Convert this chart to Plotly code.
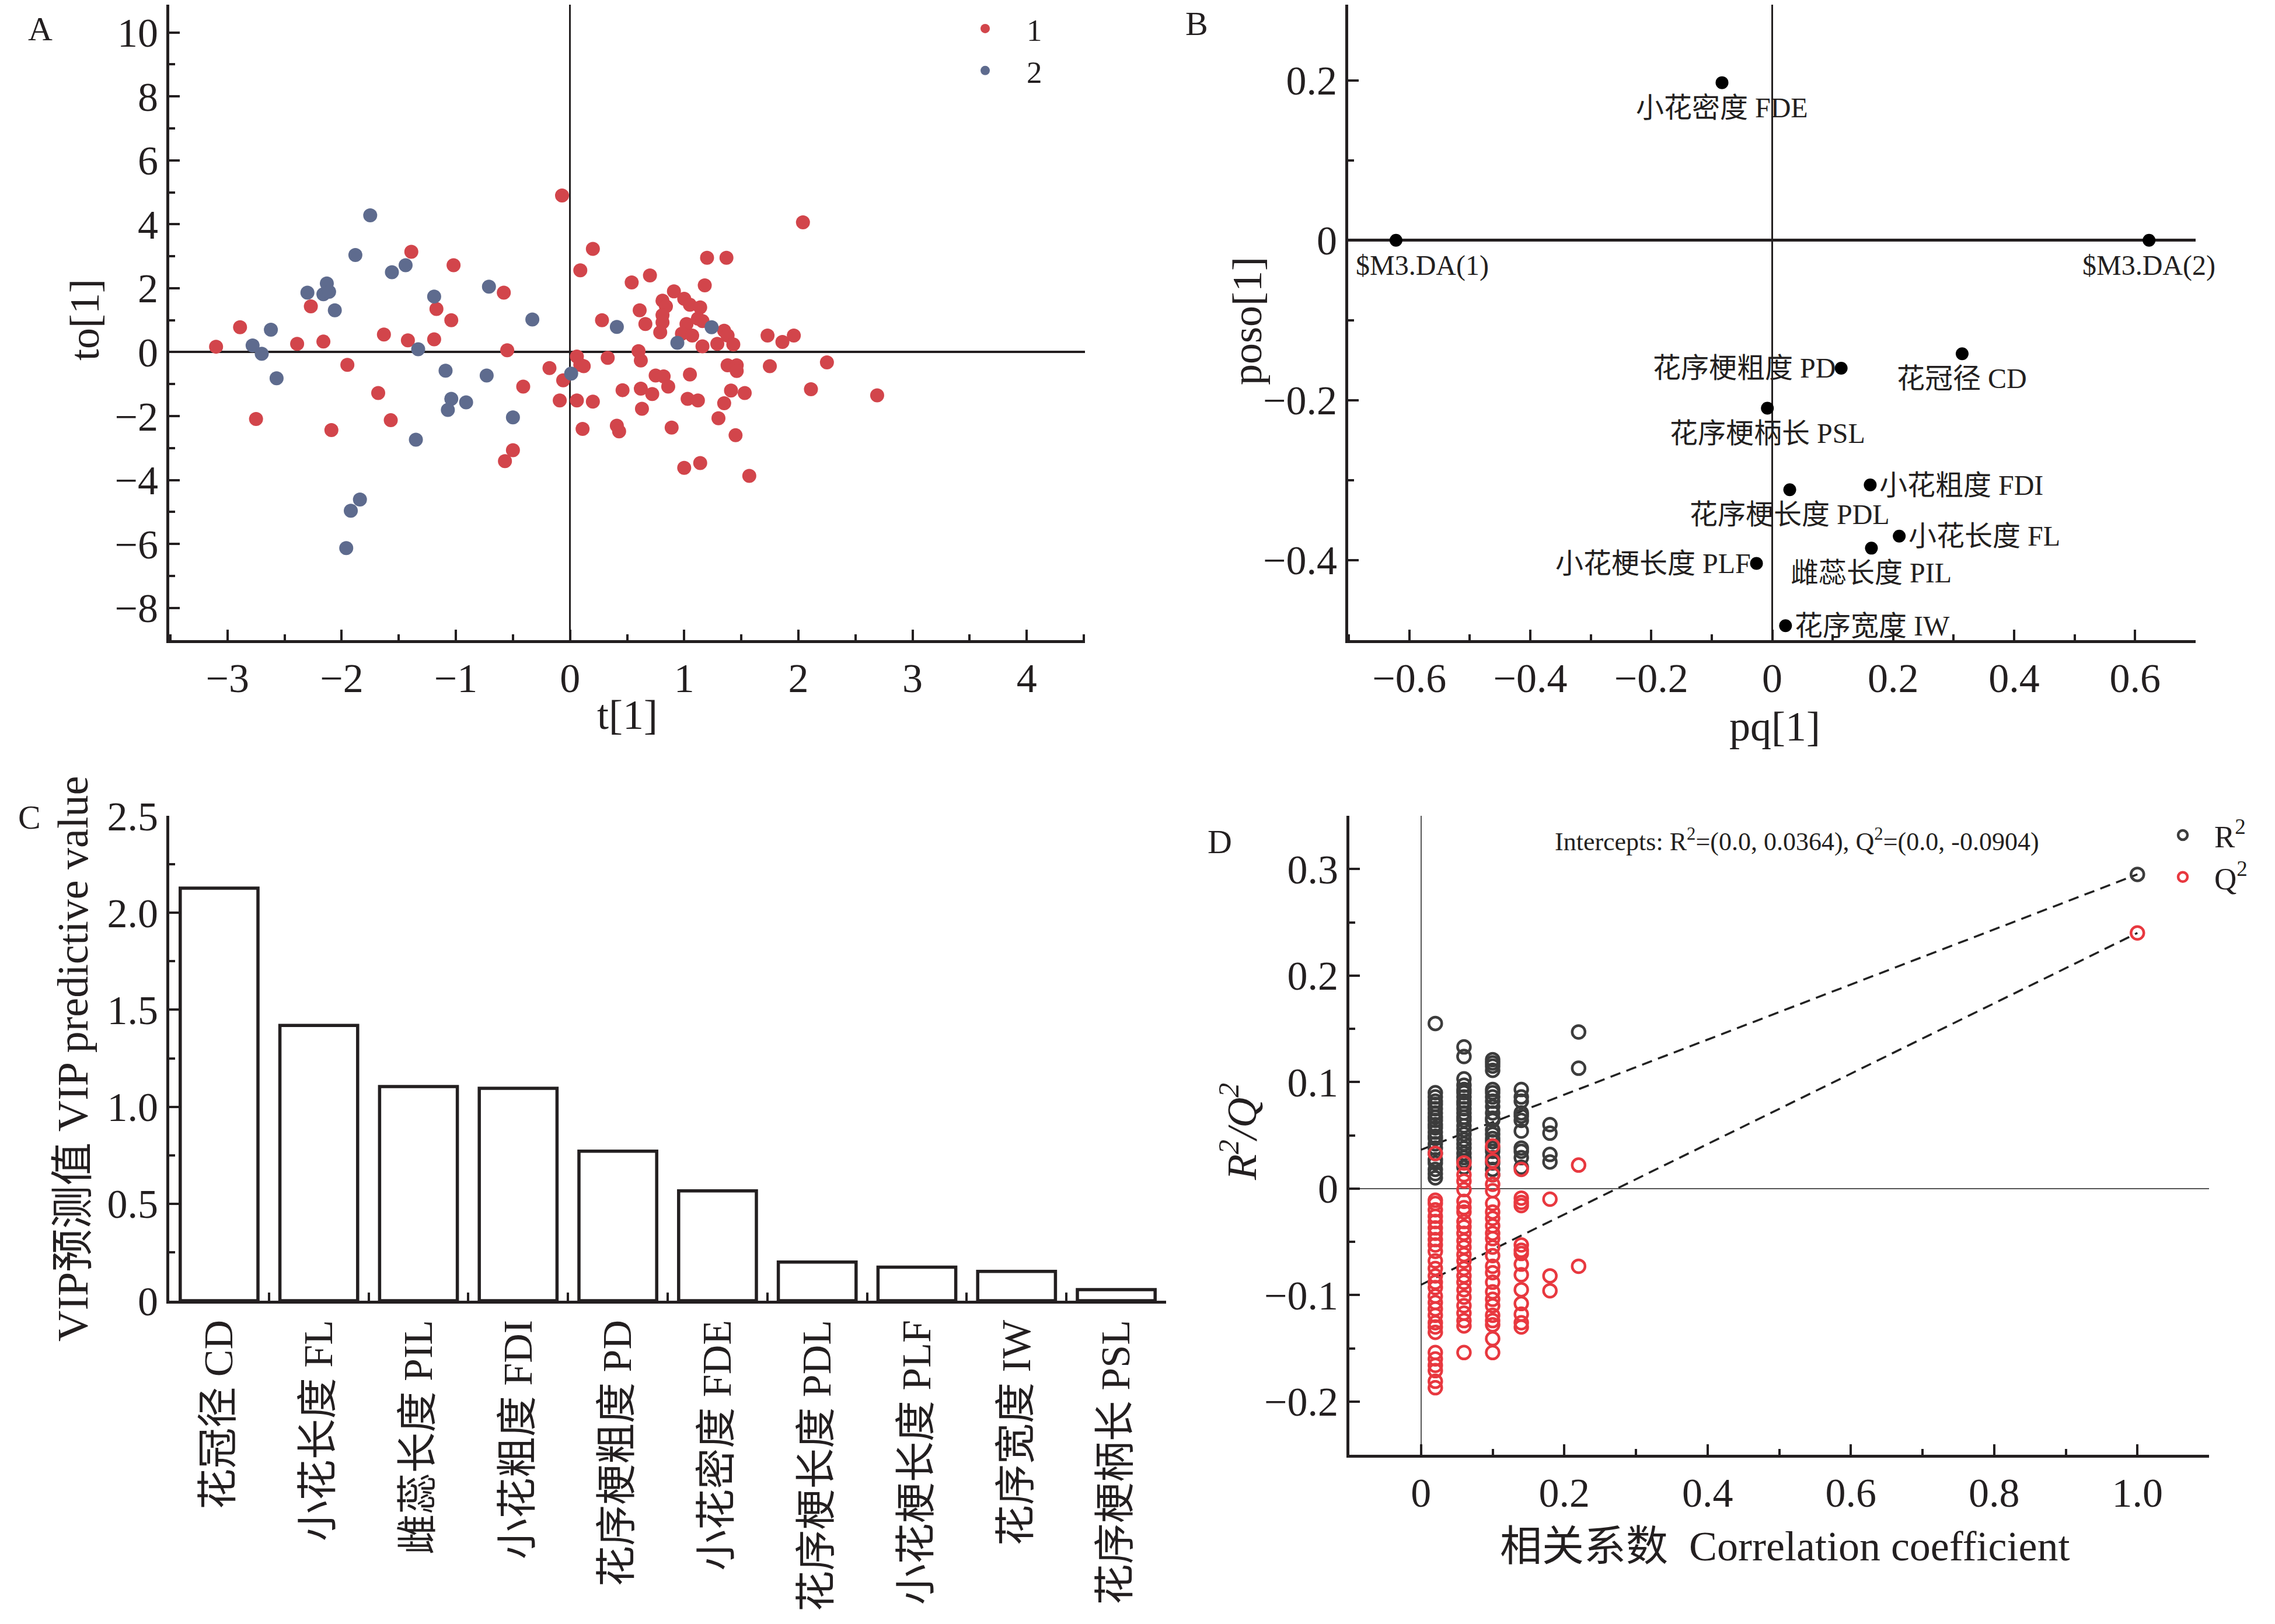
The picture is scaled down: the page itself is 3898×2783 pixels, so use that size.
import plotly.graph_objects as go

W, H = 3898, 2783
OFF = 8  # page body margin of the html page, compensated in placements
SERIF = "Liberation Serif, Times New Roman, Noto Sans CJK SC, serif"
BLACK = "#231F20"

# ---------------- Panel A data (OPLS-DA scores) ----------------
g1_t = [-0.07, 2.04, 0.20, 1.20, 1.37, -1.39, -1.02, 0.09, 0.70, 0.54, 1.18, -0.58, 0.91, 0.81,
        1.00, 0.84, 1.05, 1.14, 0.61, 0.81, -1.17, -2.27, -1.04, 0.28, 0.66, 0.81, 1.02, 1.12,
        1.16, -2.89, 0.79, 0.98, 1.07, 1.35, 1.38, 1.73, 1.96, 1.86, -1.63, -1.42, -1.19, -2.16,
        -2.39, -3.10, 1.29, 1.43, 1.16, -0.55, 0.60, 0.06, 0.33, 0.62, 2.25, -1.95, 0.09, 0.12,
        1.38, 1.46, 1.75, -0.18, 1.46, 1.05, 0.75, 0.82, -0.06, 0.86, -0.41, 0.62, 0.46, 2.11,
        1.41, 1.53, -1.68, 0.72, 2.69, 1.03, 1.12, -0.09, 0.06, 0.20, 1.35, 0.63, -2.75, -1.57,
        1.30, -2.09, 0.11, 0.89, 0.41, 0.43, 1.45, -0.50, -0.57, 1.00, 1.14, 1.57]
g1_to = [4.90, 4.06, 3.23, 2.95, 2.95, 3.14, 2.72, 2.56, 2.40, 2.18, 2.09, 1.86, 1.90, 1.61,
         1.67, 1.43, 1.48, 1.40, 1.31, 1.16, 1.35, 1.43, 1.00, 1.00, 0.88, 0.93, 0.88, 1.05,
         0.97, 0.78, 0.62, 0.58, 0.52, 0.67, 0.52, 0.52, 0.52, 0.32, 0.55, 0.37, 0.40, 0.33,
         0.26, 0.17, 0.26, 0.24, 0.18, 0.06, 0.03, -0.14, -0.18, -0.26, -0.32, -0.40, -0.40, -0.44,
         -0.41, -0.41, -0.44, -0.50, -0.59, -0.70, -0.73, -0.76, -0.88, -1.08, -1.08, -1.14, -1.19, -1.16,
         -1.20, -1.28, -1.28, -1.31, -1.35, -1.46, -1.51, -1.51, -1.51, -1.55, -1.60, -1.77, -2.09, -2.13,
         -2.07, -2.44, -2.40, -2.36, -2.30, -2.48, -2.60, -3.07, -3.41, -3.62, -3.47, -3.87]
g2_t = [-1.75, -1.88, -1.44, -1.56, -0.71, -2.13, -2.30, -2.16, -2.11, -1.19, -2.06, -0.33, 0.41,
        1.24, -2.62, 0.94, -2.78, -1.33, -2.70, 0.01, -1.09, -0.73, -2.57, -1.04, -0.91, -1.07,
        -0.50, -1.35, -1.84, -1.92, -1.96]
g2_to = [4.28, 3.04, 2.72, 2.50, 2.05, 2.15, 1.86, 1.81, 1.89, 1.74, 1.31, 1.02, 0.79,
         0.78, 0.70, 0.29, 0.21, 0.09, -0.05, -0.67, -0.58, -0.73, -0.82, -1.46, -1.57, -1.81,
         -2.04, -2.74, -4.61, -4.96, -6.13]
group_names = ["1", "2"]

# ---------------- Panel B data (loadings) ----------------
load_labels = ["$M3.DA(1)", "$M3.DA(2)", "小花密度 FDE", "花冠径 CD", "花序梗粗度 PD", "花序梗柄长 PSL",
               "小花粗度 FDI", "花序梗长度 PDL", "小花长度 FL", "雌蕊长度 PIL", "小花梗长度 PLF", "花序宽度 IW"]
load_pq = [-0.622, 0.623, -0.083, 0.314, 0.114, -0.008, 0.162, 0.029, 0.210, 0.164, -0.026, 0.022]
load_poso = [0.0, 0.0, 0.197, -0.142, -0.160, -0.210, -0.306, -0.312, -0.370, -0.385, -0.404, -0.482]
label_pos = ["below", "below", "below", "below", "left", "below",
             "right", "below", "right", "below", "left", "right"]

# ---------------- Panel C data (VIP) ----------------
vip_names = ["花冠径 CD", "小花长度 FL", "雌蕊长度 PIL", "小花粗度 FDI", "花序梗粗度 PD", "小花密度 FDE",
             "花序梗长度 PDL", "小花梗长度 PLF", "花序宽度 IW", "花序梗柄长 PSL"]
vip_values = [2.127, 1.419, 1.104, 1.095, 0.771, 0.566, 0.199, 0.173, 0.151, 0.057]

# ---------------- Panel D data (permutation test) ----------------
perm_corr = [0.02, 0.06, 0.10, 0.14, 0.18, 0.22]
r2_perm = [
    [0.155, 0.090, 0.086, 0.082, 0.079, 0.075, 0.071, 0.067, 0.064, 0.060, 0.057, 0.053, 0.049,
     0.047, 0.042, 0.038, 0.033, 0.027, 0.024, 0.018, 0.014, 0.010],
    [0.133, 0.124, 0.103, 0.097, 0.093, 0.090, 0.086, 0.082, 0.079, 0.075, 0.071, 0.067, 0.064,
     0.059, 0.055, 0.051, 0.046, 0.042, 0.038, 0.033, 0.029, 0.026, 0.020],
    [0.121, 0.118, 0.115, 0.111, 0.093, 0.090, 0.086, 0.082, 0.077, 0.071, 0.066, 0.064, 0.055,
     0.051, 0.047, 0.044, 0.038, 0.035, 0.029, 0.024, 0.018, 0.013],
    [0.093, 0.086, 0.082, 0.071, 0.068, 0.064, 0.054, 0.038, 0.035, 0.029, 0.020],
    [0.060, 0.052, 0.032, 0.025],
    [0.147, 0.113],
]
q2_perm = [
    [0.033, -0.011, -0.014, -0.020, -0.026, -0.031, -0.037, -0.042, -0.048, -0.053, -0.059, -0.068,
     -0.075, -0.082, -0.088, -0.093, -0.101, -0.107, -0.113, -0.119, -0.126, -0.130, -0.135, -0.154,
     -0.160, -0.166, -0.171, -0.181, -0.187],
    [0.024, 0.013, 0.007, -0.001, -0.012, -0.018, -0.022, -0.031, -0.036, -0.042, -0.049, -0.055,
     -0.062, -0.068, -0.075, -0.082, -0.088, -0.095, -0.102, -0.110, -0.117, -0.124, -0.129, -0.154],
    [0.040, 0.026, 0.013, 0.004, -0.002, -0.014, -0.022, -0.028, -0.035, -0.042, -0.047, -0.055,
     -0.063, -0.073, -0.079, -0.088, -0.097, -0.104, -0.110, -0.119, -0.124, -0.128, -0.141, -0.154],
    [0.018, -0.009, -0.013, -0.016, -0.053, -0.058, -0.061, -0.071, -0.081, -0.095, -0.108, -0.118,
     -0.126, -0.130],
    [-0.010, -0.082, -0.096],
    [0.022, -0.073],
]
model_corr = 1.0
r2_model = 0.295
q2_model = 0.240
r2_intercept = 0.0364
q2_intercept = -0.0904

# ---------------- helpers ----------------
def fx(px):
    return min(max((px - OFF) / W, 0.0), 1.0)


def fy(py):
    return min(max(1 - (py - OFF) / H, 0.0), 1.0)


RED_A, BLUE_A = "#D2454B", "#5E6B8E"
R2_COL, Q2_COL = "#3C3C3C", "#E8383F"

fig = go.Figure()

# A
fig.add_trace(go.Scatter(x=g1_t, y=g1_to, mode="markers", name=group_names[0],
                         marker=dict(color=RED_A, size=24), xaxis="x", yaxis="y", legend="legend"))
fig.add_trace(go.Scatter(x=g2_t, y=g2_to, mode="markers", name=group_names[1],
                         marker=dict(color=BLUE_A, size=24), xaxis="x", yaxis="y", legend="legend"))

# B
fig.add_trace(go.Scatter(x=load_pq, y=load_poso, mode="markers",
                         marker=dict(color="black", size=22), showlegend=False,
                         xaxis="x2", yaxis="y2"))

# C
fig.add_trace(go.Bar(x=vip_names, y=vip_values, width=0.78,
                     marker=dict(color="white", line=dict(color=BLACK, width=5.5)),
                     showlegend=False, xaxis="x3", yaxis="y3"))

# D
r2x, r2y, q2x, q2y = [], [], [], []
for c, vals in zip(perm_corr, r2_perm):
    r2x += [c] * len(vals)
    r2y += vals
for c, vals in zip(perm_corr, q2_perm):
    q2x += [c] * len(vals)
    q2y += vals
r2x.append(model_corr); r2y.append(r2_model)
q2x.append(model_corr); q2y.append(q2_model)

fig.add_trace(go.Scatter(x=[0, model_corr], y=[r2_intercept, r2_model], mode="lines",
                         line=dict(color="#222222", width=3.5, dash="18px,11px"),
                         showlegend=False, xaxis="x4", yaxis="y4"))
fig.add_trace(go.Scatter(x=[0, model_corr], y=[q2_intercept, q2_model], mode="lines",
                         line=dict(color="#222222", width=3.5, dash="18px,11px"),
                         showlegend=False, xaxis="x4", yaxis="y4"))
fig.add_trace(go.Scatter(x=r2x, y=r2y, mode="markers", name="R<sup>2</sup>",
                         marker=dict(symbol="circle-open", color=R2_COL, size=22,
                                     line=dict(width=4.5, color=R2_COL)),
                         xaxis="x4", yaxis="y4", legend="legend2"))
fig.add_trace(go.Scatter(x=q2x, y=q2y, mode="markers", name="Q<sup>2</sup>",
                         marker=dict(symbol="circle-open", color=Q2_COL, size=22,
                                     line=dict(width=4.5, color=Q2_COL)),
                         xaxis="x4", yaxis="y4", legend="legend2"))

TICKFONT = dict(family=SERIF, size=70, color=BLACK)


def ax(domain, rng, dtick, minor_dtick, anchor, **kw):
    d = dict(domain=domain, range=rng, dtick=dtick, tick0=0, anchor=anchor, automargin=False,
             showline=True, linecolor=BLACK, linewidth=5, mirror=False,
             ticks="inside", ticklen=18, tickwidth=4, tickcolor=BLACK,
             minor=dict(ticks="inside", ticklen=10, tickwidth=4, tickcolor=BLACK, dtick=minor_dtick),
             showgrid=False, zeroline=False, tickfont=TICKFONT)
    d.update(kw)
    return d


yA = [fy(1097), 1.0]
yC = [fy(2229), fy(1398)]
yD = [fy(2493), fy(1398)]

fig.update_layout(
    width=W, height=H, margin=dict(l=0, r=0, t=0, b=0, autoexpand=False),
    paper_bgcolor="white", plot_bgcolor="white",
    font=dict(family=SERIF, color=BLACK, size=60),
    xaxis=ax([fx(290), fx(1859)], [-3.51, 4.51], 1, 0.5, "y",
             zeroline=True, zerolinecolor=BLACK, zerolinewidth=3),
    yaxis=ax(yA, [-9.01, 10.87], 2, 1, "x",
             zeroline=True, zerolinecolor=BLACK, zerolinewidth=4),
    xaxis2=ax([fx(2310), fx(3762)], [-0.701, 0.700], 0.2, 0.1, "y2",
              zeroline=True, zerolinecolor=BLACK, zerolinewidth=2.5),
    yaxis2=ax(yA, [-0.5, 0.2945], 0.2, 0.1, "x2",
              zeroline=True, zerolinecolor=BLACK, zerolinewidth=5),
    xaxis3=dict(domain=[fx(290), fx(1998)], anchor="y3", type="category", range=[-0.5, 9.5],
                automargin=False,
                showline=True, linecolor=BLACK, linewidth=5, ticks="inside", ticklen=14,
                tickwidth=4, tickcolor=BLACK, tickson="boundaries", tickangle=-90,
                tickfont=dict(family=SERIF, size=70, color=BLACK), showgrid=False),
    yaxis3=ax(yC, [0, 2.5], 0.5, 0.25, "x3", labelalias={"1": "1.0", "2": "2.0"}),
    xaxis4=ax([fx(2312), fx(3785)], [-0.1, 1.1], 0.2, 0.1, "y4", labelalias={"1": "1.0"},
              zeroline=True, zerolinecolor="#555555", zerolinewidth=2),
    yaxis4=ax(yD, [-0.25, 0.35], 0.1, 0.05, "x4",
              zeroline=True, zerolinecolor="#555555", zerolinewidth=2),
    legend=dict(x=fx(1617), y=1.0, xanchor="left", yanchor="top",
                font=dict(family=SERIF, size=53, color=BLACK), bgcolor="rgba(0,0,0,0)",
                itemwidth=132),
    legend2=dict(x=fx(3686), y=fy(1390), xanchor="left", yanchor="top",
                 font=dict(family=SERIF, size=53, color=BLACK), bgcolor="rgba(0,0,0,0)",
                 itemwidth=98),
)

# B point labels (anchored to data coordinates)
pos_style = {"below": dict(xanchor="center", yanchor="top", xshift=0, yshift=-14),
             "left": dict(xanchor="right", yanchor="middle", xshift=-8, yshift=0),
             "right": dict(xanchor="left", yanchor="middle", xshift=14, yshift=0)}
extra_xshift = {"$M3.DA(1)": 45}
for lbl, px, py, pos in zip(load_labels, load_pq, load_poso, label_pos):
    st = dict(pos_style[pos])
    st["xshift"] += extra_xshift.get(lbl, 0)
    fig.add_annotation(text=lbl, x=px, y=py, xref="x2", yref="y2", showarrow=False,
                       font=dict(family=SERIF, size=48, color=BLACK), **st)

annots = [
    ("A", 69, 50, 58, 0), ("B", 2050, 40, 58, 0), ("C", 50, 1400, 58, 0), ("D", 2090, 1442, 58, 0),
    ("t[1]", 1075, 1225, 72, 0), ("to[1]", 145, 548, 72, -90),
    ("pq[1]", 3041, 1245, 72, 0), ("poso[1]", 2137, 550, 72, -90),
    ("VIP预测值 VIP predictive value", 125, 1815, 74, -90),
    ("相关系数  Correlation coefficient", 3058, 2650, 72, 0),
    ("<i>R<sup>2</sup>/Q<sup>2</sup></i>", 2122, 1940, 72, -90),
    (f"Intercepts: R<sup>2</sup>=(0.0, {r2_intercept}), Q<sup>2</sup>=(0.0, {q2_intercept})",
     3079, 1440, 44, 0),
]
for txt, px, py, fs, ang in annots:
    kw = dict(textangle=ang) if ang else {}
    fig.add_annotation(text=txt, x=fx(px), y=fy(py), xref="paper", yref="paper",
                       xanchor="center", yanchor="middle", showarrow=False,
                       font=dict(family=SERIF, size=fs, color=BLACK), **kw)

fig.write_html("out.html")
